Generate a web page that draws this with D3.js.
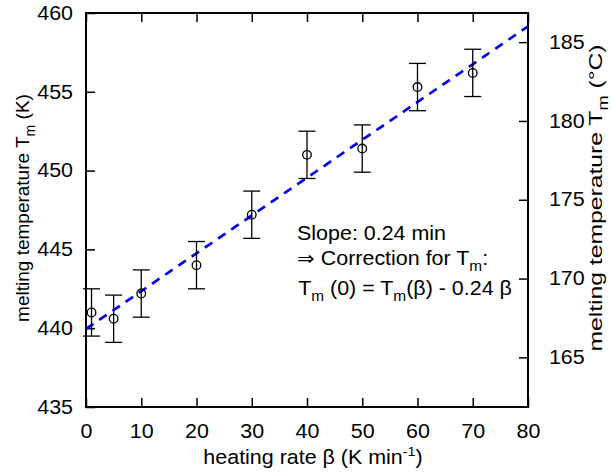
<!DOCTYPE html>
<html>
<head>
<meta charset="utf-8">
<script src="https://cdn.jsdelivr.net/npm/d3@7"></script>
<style>
  body { margin: 0; background: #fff; }
  text { font-family: "Liberation Sans", Arial, sans-serif; fill: #000; }
</style>
</head>
<body>
<div id="chart"></div>
<script>
// heating rate (K/min), melting temperature (K), error (K)
const rates = [1, 5, 10, 20, 30, 40, 50, 60, 70];
const temps = [441.0, 440.6, 442.2, 444.0, 447.2, 451.0, 451.4, 455.3, 456.2];
const errs = [1.5, 1.5, 1.5, 1.5, 1.5, 1.5, 1.5, 1.5, 1.5];
const fitIntercept = 439.95;
const fitSlope = 0.240;
const xTicks = [0, 10, 20, 30, 40, 50, 60, 70, 80];
const yTicksK = [435, 440, 445, 450, 455, 460];
const yTicksC = [165, 170, 175, 180, 185];

let margins = { top: 13, right: 84, bottom: 66, left: 86 };
let width = 612 - margins.left - margins.right;
let height = 473 - margins.top - margins.bottom;

let svg = d3.select("#chart").append("svg")
    .attr("width", 612).attr("height", 473)
    .append("g")
    .attr("transform", "translate(" + margins.left + "," + margins.top + ")");

let x = d3.scaleLinear().domain([0, 80]).range([0, width]);
let y = d3.scaleLinear().domain([435, 460]).range([height, 0]);
let yC = d3.scaleLinear().domain([435 - 273.15, 460 - 273.15]).range([height, 0]);

const fs = 19.5;
const sx = 1.1; // the original text is a bit wider than the font
const tickLen = 9;

function styleAxis(g) {
    g.select(".domain").remove();
    g.selectAll(".tick line").attr("stroke", "#000").attr("stroke-width", 1.5);
    g.selectAll(".tick text").style("font-size", fs + "px")
        .attr("transform", "scale(" + sx + ",1)");
}

svg.append("g")
    .attr("transform", "translate(0," + height + ")")
    .call(d3.axisBottom(x).tickValues(xTicks).tickSize(-tickLen).tickPadding(17))
    .call(styleAxis);
svg.append("g")
    .call(d3.axisTop(x).tickValues(xTicks).tickSize(-tickLen).tickFormat(""))
    .call(styleAxis);
svg.append("g")
    .call(d3.axisLeft(y).tickValues(yTicksK).tickSize(-tickLen).tickPadding(11.8))
    .call(styleAxis);
svg.append("g")
    .attr("transform", "translate(" + width + ",0)")
    .call(d3.axisRight(yC).tickValues(yTicksC).tickSize(-tickLen).tickPadding(19))
    .call(styleAxis);

// frame
svg.append("rect")
    .attr("width", width).attr("height", height)
    .attr("fill", "none").attr("stroke", "#000").attr("stroke-width", 2);

// fit line
svg.append("line")
    .attr("x1", x(0)).attr("y1", y(fitIntercept))
    .attr("x2", x(80)).attr("y2", y(fitIntercept + fitSlope * 80))
    .attr("stroke", "#0000ee").attr("stroke-width", 2.7)
    .attr("stroke-dasharray", "9,7");

// error bars and points
let pts = svg.append("g").selectAll("g.pt")
    .data(rates.map((r, i) => ({ r: r, t: temps[i], e: errs[i] })))
    .enter().append("g").attr("class", "pt");
pts.append("line")
    .attr("x1", d => x(d.r)).attr("x2", d => x(d.r))
    .attr("y1", d => y(d.t - d.e)).attr("y2", d => y(d.t + d.e))
    .attr("stroke", "#000").attr("stroke-width", 1.3);
[-1, 1].forEach(s => {
    pts.append("line")
        .attr("x1", d => x(d.r) - 8.5).attr("x2", d => x(d.r) + 8.5)
        .attr("y1", d => y(d.t + s * d.e)).attr("y2", d => y(d.t + s * d.e))
        .attr("stroke", "#000").attr("stroke-width", 1.3);
});
pts.append("circle")
    .attr("cx", d => x(d.r)).attr("cy", d => y(d.t))
    .attr("r", 4.3)
    .attr("fill", "none").attr("stroke", "#000").attr("stroke-width", 1.3);

// text pieces: plain strings, {lo: ..} subscripts, {hi: ..} superscripts
function addParts(t, parts) {
    let back = 0;
    parts.forEach(p => {
        if (typeof p === "string") {
            let s = t.append("tspan").text(p);
            if (back) s.attr("dy", back);
            back = 0;
        } else if (p.lo) {
            t.append("tspan").attr("dy", 6 + back).style("font-size", "14px").text(p.lo);
            back = -6;
        } else {
            t.append("tspan").attr("dy", -8 + back).style("font-size", "13px").text(p.hi);
            back = 8;
        }
    });
}

// axis titles
let yl = svg.append("text")
    .attr("transform", "translate(-57," + (height / 2 - 2) + ") rotate(-90)")
    .attr("text-anchor", "middle")
    .style("font-size", "19px");
addParts(yl, ["melting temperature T", { lo: "m" }, " (K)"]);

let yr = svg.append("text")
    .attr("transform", "translate(" + (width + 74) + "," + (height / 2 - 12) + ") rotate(-90) scale(1.3,1)")
    .attr("text-anchor", "middle")
    .style("font-size", "19px");
addParts(yr, ["melting temperature T", { lo: "m" }, " (°C)"]);

let xl = svg.append("text")
    .attr("transform", "translate(" + (width / 2 + 6) + "," + (height + 57) + ") scale(" + sx + ",1)")
    .attr("text-anchor", "middle")
    .style("font-size", fs + "px");
addParts(xl, ["heating rate β (K min", { hi: "-1" }, ")"]);

// annotation
function note(xv, yv, parts) {
    let t = svg.append("text")
        .attr("transform", "translate(" + x(xv) + "," + yv + ") scale(" + sx + ",1)")
        .style("font-size", fs + "px");
    addParts(t, parts);
}
note(38.2, 227, ["Slope: 0.24 min"]);
note(38.2, 252, ["⇒ Correction for T", { lo: "m" }, ":"]);
note(38.4, 282, ["T", { lo: "m" }, " (0) = T", { lo: "m" }, "(β) - 0.24 β"]);
</script>
</body>
</html>
